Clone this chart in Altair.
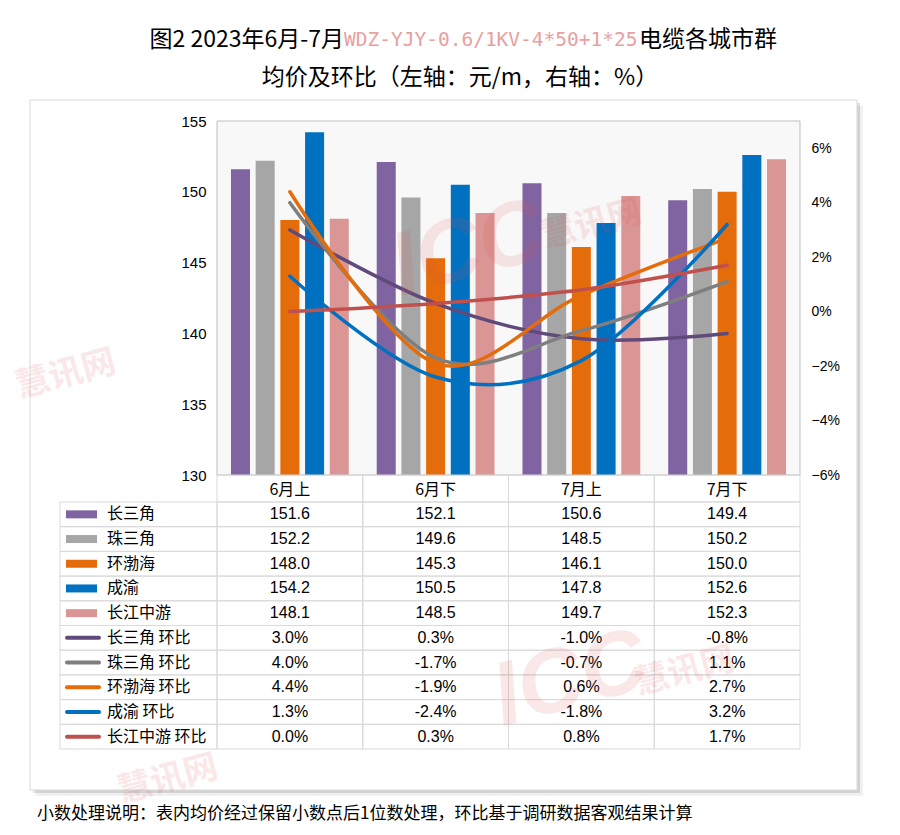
import altair as alt
import pandas as pd

# ---------------- data ----------------
cats = ["6月上", "6月下", "7月上", "7月下"]
regions = ["长三角", "珠三角", "环渤海", "成渝", "长江中游"]

price_csj = [151.6, 152.1, 150.6, 149.4]
price_zsj = [152.2, 149.6, 148.5, 150.2]
price_hbh = [148.0, 145.3, 146.1, 150.0]
price_cy = [154.2, 150.5, 147.8, 152.6]
price_cjzy = [148.1, 148.5, 149.7, 152.3]

mom_csj = [3.0, 0.3, -1.0, -0.8]
mom_zsj = [4.0, -1.7, -0.7, 1.1]
mom_hbh = [4.4, -1.9, 0.6, 2.7]
mom_cy = [1.3, -2.4, -1.8, 3.2]
mom_cjzy = [0.0, 0.3, 0.8, 1.7]

left_ticks = [130, 135, 140, 145, 150, 155]
right_ticks = [-0.06, -0.04, -0.02, 0.0, 0.02, 0.04, 0.06]

bar_colors = ["#8064a2", "#a6a6a6", "#e46c0a", "#0070c0", "#da9694"]
line_colors = ["#604a7b", "#7f7f7f", "#e46c0a", "#0070c0", "#c0504d"]

prices = [price_csj, price_zsj, price_hbh, price_cy, price_cjzy]
moms = [mom_csj, mom_zsj, mom_hbh, mom_cy, mom_cjzy]
series = [r + " 环比" for r in regions]
row_labels = regions + series

bars_df = pd.DataFrame([
    {"cat": c, "region": r, "price": v}
    for r, vals in zip(regions, prices) for c, v in zip(cats, vals)
])
lines_df = pd.DataFrame([
    {"cat": c, "series": s, "sidx": i, "pct": v / 100.0}
    for i, (s, vals) in enumerate(zip(series, moms)) for c, v in zip(cats, vals)
])
table_rows = []
for r, vals in zip(regions, prices):
    for c, v in zip(cats, vals):
        table_rows.append({"row": r, "cat": c, "txt": f"{v:.1f}"})
for s, vals in zip(series, moms):
    for c, v in zip(cats, vals):
        table_rows.append({"row": s, "cat": c, "txt": f"{v:.1f}%"})
table_df = pd.DataFrame(table_rows)
label_df = pd.DataFrame(
    [{"row": r, "kind": "bar", "color": col} for r, col in zip(regions, bar_colors)]
    + [{"row": s, "kind": "line", "color": col} for s, col in zip(series, line_colors)]
)
head_df = pd.DataFrame({"cat": cats})
one = pd.DataFrame({"k": [0]})

# ---------------- layout constants ----------------
W, H = 583, 354
TABLE_TOP, TABLE_BOTTOM = 381, 628
CJK = "Noto Sans CJK SC"
LAT = "Liberation Sans"

xband = alt.Scale(type="band", domain=cats, paddingInner=0, paddingOuter=0)
yrow = alt.Scale(type="band", domain=row_labels, range=[TABLE_TOP, TABLE_BOTTOM],
                 paddingInner=0, paddingOuter=0)

def X(bp=None):
    if bp is None:
        return alt.X("cat:N", scale=xband, axis=None)
    return alt.X("cat:N", scale=xband, axis=None, bandPosition=bp)

def YR(bp=None):
    if bp is None:
        return alt.Y("row:N", scale=yrow, axis=None)
    return alt.Y("row:N", scale=yrow, axis=None, bandPosition=bp)

# ---------------- frame & shadow ----------------
FX0, FX1, FY0, FY1 = -187, 640, -21, 669
shadow1 = alt.Chart(one).mark_rect(fill="#000000", opacity=0.06).encode(
    x=alt.value(FX0 + 6), x2=alt.value(FX1 + 6), y=alt.value(FY0 + 6), y2=alt.value(FY1 + 6))
shadow2 = alt.Chart(one).mark_rect(fill="#000000", opacity=0.12).encode(
    x=alt.value(FX0 + 3), x2=alt.value(FX1 + 3), y=alt.value(FY0 + 3), y2=alt.value(FY1 + 3))
frame = alt.Chart(one).mark_rect(fill="#ffffff", stroke="#d9d9d9", strokeWidth=1).encode(
    x=alt.value(FX0), x2=alt.value(FX1), y=alt.value(FY0), y2=alt.value(FY1))
plotbg = alt.Chart(one).mark_rect(fill="#f8f8f8", stroke="#bfbfbf", strokeWidth=1).encode(
    x=alt.value(0), x2=alt.value(W), y=alt.value(0), y2=alt.value(H))

# ---------------- bars (left axis) ----------------
bars = alt.Chart(bars_df).mark_bar().encode(
    x=X(),
    xOffset=alt.XOffset("region:N", scale=alt.Scale(domain=regions, paddingInner=0.23, paddingOuter=0.565)),
    y=alt.Y("price:Q",
            scale=alt.Scale(domain=[130, 155], zero=False, nice=False),
            axis=alt.Axis(orient="left", values=left_ticks, grid=False, ticks=False, domain=False,
                          labelFont=LAT, labelFontSize=15, labelColor="#000000", labelPadding=11,
                          title=None, zindex=5)),
    y2=alt.datum(130),
    color=alt.Color("region:N", scale=alt.Scale(domain=regions, range=bar_colors), legend=None),
)

# ---------------- lines (right axis) ----------------
lines = alt.Chart(lines_df).mark_line(interpolate="cardinal", strokeWidth=3.5, strokeCap="round").encode(
    x=X(0.5),
    y=alt.Y("pct:Q",
            scale=alt.Scale(domain=[-0.06, 0.07], zero=False, nice=False),
            axis=alt.Axis(orient="right", values=right_ticks, format=".0%", grid=False, ticks=False,
                          domain=False, labelFont=LAT, labelFontSize=14, labelColor="#000000",
                          labelPadding=11, title=None, zindex=5)),
    color=alt.Color("series:N", scale=alt.Scale(domain=series, range=line_colors), legend=None),
    detail="sidx:O",
)

# ---------------- table ----------------
cells = alt.Chart(table_df).mark_rect(fill="#ffffff", fillOpacity=0, stroke="#d9d9d9", strokeWidth=1).encode(
    x=X(), y=YR())
label_cells = alt.Chart(label_df).mark_rect(fill="#ffffff", fillOpacity=0, stroke="#d9d9d9", strokeWidth=1).encode(
    x=alt.value(-157), x2=alt.value(0), y=YR())
head_cells = alt.Chart(head_df).mark_rect(fill="#ffffff", fillOpacity=0, stroke="#d9d9d9", strokeWidth=1).encode(
    x=X(), y=alt.value(H), y2=alt.value(TABLE_TOP))
head_text = alt.Chart(head_df).mark_text(font=CJK, fontSize=16, color="#000000", baseline="middle").encode(
    x=X(0.5), y=alt.value((H + TABLE_TOP) / 2 + 1), text="cat:N")
cell_text = alt.Chart(table_df).mark_text(font=LAT, fontSize=16, color="#000000", baseline="middle").encode(
    x=X(0.5), y=YR(0.5), text="txt:N")
label_text = alt.Chart(label_df).mark_text(font=CJK, fontSize=16, color="#000000", baseline="middle",
                                            align="left").encode(
    x=alt.value(-110), y=YR(0.5), text="row:N")
swatch_bar = alt.Chart(label_df).transform_filter("datum.kind == 'bar'").mark_rule(
    strokeWidth=8, strokeCap="butt").encode(
    x=alt.value(-151), x2=alt.value(-120), y=YR(0.5), color=alt.Color("color:N", scale=None))
swatch_line = alt.Chart(label_df).transform_filter("datum.kind == 'line'").mark_rule(
    strokeWidth=4, strokeCap="round").encode(
    x=alt.value(-150), x2=alt.value(-118), y=YR(0.5), color=alt.Color("color:N", scale=None))

# ---------------- titles & footnote ----------------
t1a = alt.Chart(one).mark_text(text="图2 2023年6月-7月", font=CJK, fontSize=23,
                               color="#000000", align="right", baseline="middle").encode(
    x=alt.value(127), y=alt.value(-81))
t1b = alt.Chart(one).mark_text(text="WDZ-YJY-0.6/1KV-4*50+1*25", font="DejaVu Sans Mono", fontSize=19.5,
                               color="#e8a0a0", align="left", baseline="middle").encode(
    x=alt.value(127), y=alt.value(-81))
t1c = alt.Chart(one).mark_text(text="电缆各城市群", font=CJK, fontSize=23,
                               color="#000000", align="left", baseline="middle").encode(
    x=alt.value(422), y=alt.value(-81))
t2 = alt.Chart(one).mark_text(text="均价及环比（左轴：元/m，右轴：%）", font=CJK, fontSize=23,
                              color="#000000", align="center", baseline="middle").encode(
    x=alt.value(243), y=alt.value(-43))
foot = alt.Chart(one).mark_text(text="小数处理说明：表内均价经过保留小数点后1位数处理，环比基于调研数据客观结果计算",
                                font=CJK, fontSize=17, color="#000000", align="left",
                                baseline="middle").encode(
    x=alt.value(-180), y=alt.value(693))

# ---------------- watermarks ----------------
WM = "#e05050"
def wm(text, x, y, size, font, italic=False):
    return alt.Chart(one).mark_text(text=text, font=font, fontSize=size, fontWeight="bold",
                                    fontStyle="italic" if italic else "normal", angle=345,
                                    color=WM, opacity=0.13, align="center", baseline="middle").encode(
        x=alt.value(x), y=alt.value(y))

wms = [
    wm("ICC", 468 - 217, 250 - 121, 90, LAT, True),
    wm("慧讯网", 592 - 217, 225 - 121, 34, CJK),
    wm("慧讯网", 66 - 217, 375 - 121, 34, CJK),
    wm("ICC", 570 - 217, 680 - 121, 90, LAT, True),
    wm("慧讯网", 685 - 217, 672 - 121, 34, CJK),
    wm("慧讯网", 168 - 217, 780 - 121, 34, CJK),
]

chart = alt.layer(
    shadow1, shadow2, frame, plotbg, bars, lines,
    cells, label_cells, head_cells, head_text, cell_text, label_text, swatch_bar, swatch_line,
    t1a, t1b, t1c, t2, foot, *wms
).resolve_scale(
    y="independent", color="independent"
).properties(
    width=W, height=H,
    autosize=alt.AutoSizeParams(type="none"),
    padding={"left": 209, "top": 113, "right": 92, "bottom": 355},
    background="#ffffff",
).configure_view(stroke=None)

chart.save("out.html", embed_options={"renderer": "svg", "actions": False})
